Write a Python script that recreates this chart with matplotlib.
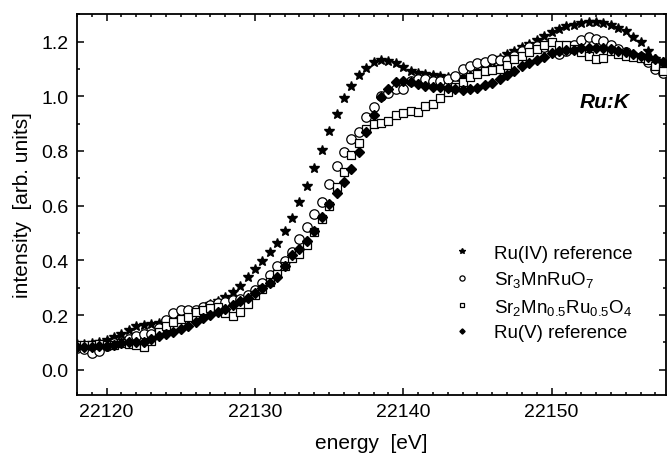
import numpy as np
import matplotlib
matplotlib.use("Agg")
import matplotlib.pyplot as plt

plt.rcParams['font.family'] = ['Liberation Sans', 'DejaVu Sans']
plt.rcParams['mathtext.fontset'] = 'custom'
plt.rcParams['mathtext.rm'] = 'Liberation Sans'
plt.rcParams['mathtext.it'] = 'Liberation Sans:italic'

energy = np.arange(22118.0, 22158.0, 0.5)

ru4_ref = [0.094, 0.094, 0.098, 0.101, 0.110, 0.119, 0.131, 0.145, 0.159, 0.164,
           0.166, 0.170, 0.178, 0.186, 0.196, 0.207, 0.215, 0.226, 0.240, 0.251,
           0.266, 0.285, 0.307, 0.338, 0.368, 0.399, 0.430, 0.464, 0.506, 0.553,
           0.613, 0.673, 0.737, 0.804, 0.872, 0.934, 0.993, 1.036, 1.077, 1.105,
           1.126, 1.131, 1.128, 1.121, 1.106, 1.094, 1.086, 1.082, 1.078, 1.074,
           1.070, 1.069, 1.071, 1.078, 1.093, 1.111, 1.126, 1.141, 1.155, 1.167,
           1.180, 1.192, 1.207, 1.222, 1.235, 1.247, 1.256, 1.262, 1.269, 1.273,
           1.273, 1.269, 1.261, 1.250, 1.238, 1.218, 1.198, 1.167, 1.137, 1.126]

sr3mnruo7 = [0.079, 0.076, 0.061, 0.070, 0.088, 0.098, 0.100, 0.112, 0.122, 0.131,
             0.131, 0.151, 0.183, 0.207, 0.220, 0.220, 0.220, 0.228, 0.237, 0.244,
             0.247, 0.255, 0.259, 0.273, 0.293, 0.316, 0.347, 0.381, 0.399, 0.430,
             0.477, 0.521, 0.570, 0.613, 0.679, 0.744, 0.798, 0.842, 0.871, 0.924,
             0.960, 1.001, 1.012, 1.027, 1.027, 1.057, 1.064, 1.064, 1.057, 1.057,
             1.064, 1.074, 1.100, 1.112, 1.120, 1.127, 1.137, 1.134, 1.131, 1.149,
             1.167, 1.180, 1.183, 1.180, 1.176, 1.155, 1.164, 1.186, 1.206, 1.216,
             1.210, 1.204, 1.186, 1.173, 1.161, 1.149, 1.143, 1.125, 1.100, 1.086]

sr2mnruo4 = [0.090, 0.090, 0.090, 0.094, 0.090, 0.090, 0.098, 0.094, 0.090, 0.082,
             0.106, 0.137, 0.161, 0.173, 0.186, 0.192, 0.210, 0.220, 0.225, 0.228,
             0.206, 0.196, 0.210, 0.240, 0.275, 0.295, 0.320, 0.350, 0.381, 0.408,
             0.423, 0.456, 0.503, 0.551, 0.600, 0.667, 0.722, 0.784, 0.828, 0.879,
             0.897, 0.904, 0.908, 0.931, 0.939, 0.948, 0.942, 0.963, 0.972, 0.993,
             1.014, 1.033, 1.052, 1.070, 1.082, 1.091, 1.097, 1.101, 1.116, 1.135,
             1.149, 1.161, 1.173, 1.188, 1.198, 1.188, 1.186, 1.173, 1.162, 1.149,
             1.137, 1.141, 1.164, 1.155, 1.149, 1.143, 1.139, 1.131, 1.112, 1.094]

ru5_ref = [0.083, 0.082, 0.083, 0.086, 0.088, 0.090, 0.098, 0.102, 0.102, 0.102,
           0.112, 0.122, 0.131, 0.139, 0.149, 0.161, 0.176, 0.188, 0.200, 0.212,
           0.222, 0.236, 0.251, 0.261, 0.281, 0.299, 0.317, 0.339, 0.381, 0.419,
           0.441, 0.470, 0.506, 0.558, 0.606, 0.645, 0.686, 0.734, 0.798, 0.870,
           0.932, 0.998, 1.027, 1.052, 1.055, 1.052, 1.044, 1.036, 1.035, 1.034,
           1.031, 1.027, 1.023, 1.026, 1.031, 1.041, 1.050, 1.063, 1.077, 1.092,
           1.109, 1.122, 1.134, 1.145, 1.157, 1.165, 1.169, 1.170, 1.175, 1.177,
           1.178, 1.176, 1.173, 1.167, 1.161, 1.155, 1.149, 1.143, 1.135, 1.125]

labels = ["Ru(IV) reference", r"Sr$_3$MnRuO$_7$",
          r"Sr$_2$Mn$_{0.5}$Ru$_{0.5}$O$_4$", "Ru(V) reference"]

fig = plt.figure(figsize=(6.67, 4.56), dpi=100)
ax = fig.add_axes([77/667, 60/456, 590/667 - 0.0008, 381/456])

ax.plot(energy, ru4_ref, linestyle='none', marker='*', ms=7.8, color='black',
        mec='black', label=labels[0], zorder=3)
ax.plot(energy, sr3mnruo7, linestyle='none', marker='o', ms=6.8, mfc='white',
        mec='black', mew=0.9, label=labels[1], zorder=4)
ax.plot(energy, sr2mnruo4, linestyle='none', marker='s', ms=6.0, mfc='white',
        mec='black', mew=0.9, label=labels[2], zorder=5)
ax.plot(energy, ru5_ref, linestyle='none', marker='D', ms=4.8, color='black',
        label=labels[3], zorder=6)

ax.set_xlim(22118.0, 22157.75)
ax.set_ylim(-0.0926, 1.301)
ax.set_xticks([22120, 22130, 22140, 22150])
ax.set_yticks([0.0, 0.2, 0.4, 0.6, 0.8, 1.0, 1.2])
ax.set_yticklabels(["0.0", "0.2", "0.4", "0.6", "0.8", "1.0", "1.2"])
ax.xaxis.set_minor_locator(matplotlib.ticker.MultipleLocator(1))
ax.yaxis.set_minor_locator(matplotlib.ticker.MultipleLocator(0.1))
ax.tick_params(which='both', direction='in', top=True, right=True, width=1.1)
ax.tick_params(which='major', length=5, labelsize=14, pad=6)
ax.tick_params(which='minor', length=2.5)
for s in ax.spines.values():
    s.set_linewidth(1.3)

ax.set_xlabel("energy  [eV]", fontsize=15, labelpad=9)
ax.set_ylabel("intensity  [arb. units]", fontsize=15, labelpad=7)

ax.text(22153.6, 0.98, "Ru:K", fontsize=15, fontweight='bold', style='italic',
        ha='center', va='center')

leg = ax.legend(loc='upper left', bbox_to_anchor=(0.637, 0.395), frameon=False,
                fontsize=13.5, markerscale=0.55, handlelength=1.0,
                handletextpad=1.2, labelspacing=0.4, borderpad=0,
                borderaxespad=0)

fig.savefig("out.png", dpi=100)
